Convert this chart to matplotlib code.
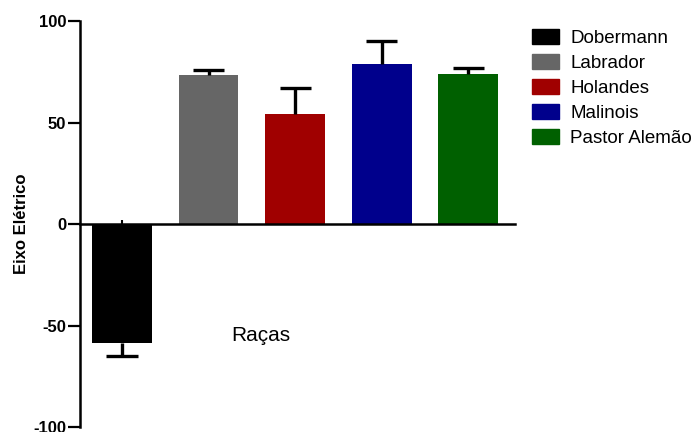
import matplotlib
matplotlib.use("Agg")
import matplotlib.pyplot as plt
from matplotlib.patches import Patch

plt.rcParams["font.family"] = ["Liberation Sans", "DejaVu Sans"]
plt.rcParams["axes.unicode_minus"] = False

# data (mean and upper SEM per breed)
breeds = ["Dobermann", "Labrador", "Holandes", "Malinois", "Pastor Alemão"]
means = [-58.5, 73.3, 54.3, 79.0, 74.0]
errors = [6.5, 2.5, 13.0, 11.0, 3.0]
colors = ["#000000", "#666666", "#a00000", "#00008c", "#006000"]

fig = plt.figure(figsize=(6.95, 4.32), dpi=100)
ax = fig.add_axes([0.115, 0.0116, 0.626, 0.9394])

x = list(range(len(breeds)))
ax.bar(x, means, width=0.69, color=colors, zorder=2)

# one-sided error bars, pointing away from zero
cap = 0.18
for xi, m, e in zip(x, means, errors):
    end = m - e if m < 0 else m + e
    ax.vlines(xi, m, end, color="black", linewidth=2.4, zorder=3)
    ax.hlines(end, xi - cap, xi + cap, color="black", linewidth=2.4, zorder=3)

ax.set_xlim(-0.486, 4.54)
ax.set_ylim(-100, 100)
ax.set_yticks([-100, -50, 0, 50, 100])
ax.set_xticks(x)
ax.set_xticklabels([])
ax.tick_params(axis="x", direction="in", length=3, width=1.5)
ax.tick_params(axis="y", length=9, width=1.6, labelsize=12, pad=1)
for lab in ax.get_yticklabels():
    lab.set_fontweight("bold")

for side in ("top", "right"):
    ax.spines[side].set_visible(False)
ax.spines["left"].set_linewidth(1.8)
ax.spines["bottom"].set_linewidth(1.8)
ax.spines["bottom"].set_position(("data", 0))
ax.spines["bottom"].set_zorder(4)

ax.set_ylabel("Eixo Elétrico", fontsize=12, fontweight="bold", labelpad=3)
ax.text(1.6, -54.7, "Raças", fontsize=15, ha="center", va="center")

handles = [Patch(facecolor=c, edgecolor=c) for c in colors]
fig.legend(handles, breeds, loc="upper left", bbox_to_anchor=(0.765, 0.932),
           frameon=False, fontsize=13.5, handlelength=1.45, handleheight=0.8,
           labelspacing=0.39, handletextpad=0.6, borderaxespad=0,
           borderpad=0)

fig.savefig("out.png", dpi=100)
plt.close(fig)
